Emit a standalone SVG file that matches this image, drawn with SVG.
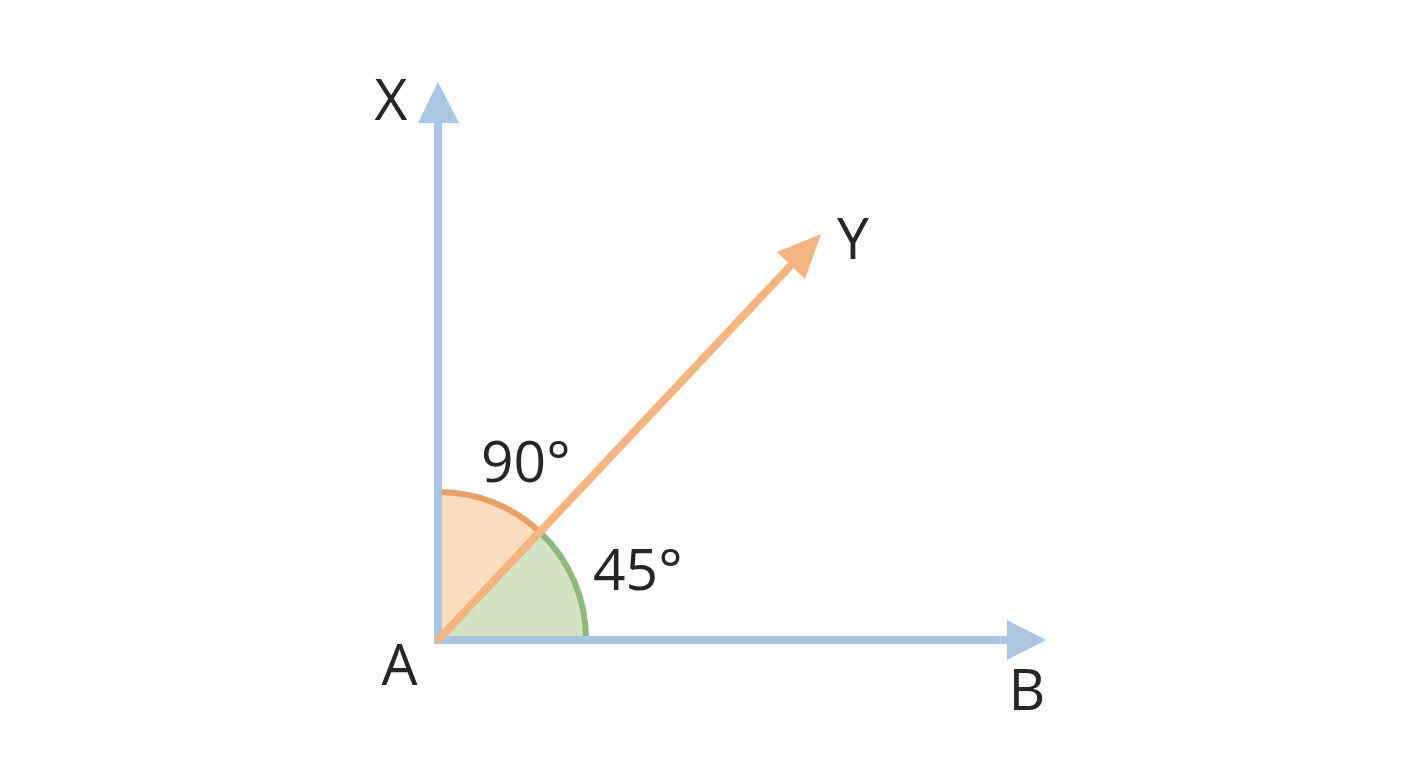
<svg xmlns="http://www.w3.org/2000/svg" width="1408" height="768" viewBox="0 0 1408 768">
<style>
.lbl{font-family:"Open Sans","Liberation Sans",sans-serif;font-size:57px;fill:#262626}
.blue{stroke:#A9C6E3;stroke-width:8;fill:none}
.blueh{fill:#A9C6E3}
.org{stroke:#F5B580;stroke-width:8;fill:none;stroke-linecap:round}
.orgh{fill:#F5B580}
</style>
<rect width="1408" height="768" fill="#FFFFFF"/>
<g id="angles">
<path d="M439,639 L439,492 A147,147 0 0 1 539.8,532 Z" fill="#FCDCBE"/>
<path d="M439,639 L539.8,532 A147,147 0 0 1 586,639 Z" fill="#D2E4C4"/>
<path d="M439,492 A147,147 0 0 1 539.8,532" fill="none" stroke="#E8A064" stroke-width="6"/>
<path d="M539.8,532 A147,147 0 0 1 586,639" fill="none" stroke="#8FB87B" stroke-width="6"/>
</g>
<g id="connectors">
<g id="ray-AX">
<line class="blue" x1="438" y1="643" x2="438" y2="118"/>
<polygon class="blueh" points="438,82 459,123 418,123"/>
</g>
<g id="ray-AB">
<line class="blue" x1="434" y1="640" x2="1012" y2="640"/>
<polygon class="blueh" points="1046,640 1007,660 1007,620"/>
</g>
<g id="ray-AY">
<line class="org" x1="439" y1="639" x2="795" y2="261"/>
<polygon class="orgh" points="821,234 805,279 777,252"/>
</g>
</g>
<g id="label-X"><text class="lbl" x="391" y="120" text-anchor="middle">X</text></g>
<g id="label-Y"><text class="lbl" x="853" y="259" text-anchor="middle">Y</text></g>
<g id="label-A"><text class="lbl" x="399.5" y="685" text-anchor="middle">A</text></g>
<g id="label-B"><text class="lbl" x="1027" y="710" text-anchor="middle">B</text></g>
<g id="label-90"><text class="lbl" x="481" y="482">90°</text></g>
<g id="label-45"><text class="lbl" x="593" y="590">45°</text></g>
</svg>
